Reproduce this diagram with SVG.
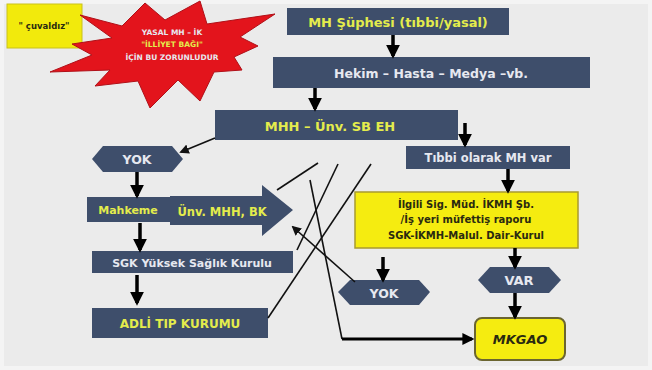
<svg xmlns="http://www.w3.org/2000/svg" width="652" height="370" viewBox="0 0 652 370">
<style>
.box{fill:#3e4e6b;}
.ty{fill:#e4ec4c;font-family:"DejaVu Sans",sans-serif;font-weight:bold;text-anchor:middle;}
.tw{fill:#e6e8f0;font-family:"DejaVu Sans",sans-serif;font-weight:bold;text-anchor:middle;}
.td{fill:#2a2a10;font-family:"DejaVu Sans",sans-serif;font-weight:bold;text-anchor:middle;}
.thick{stroke:#000;stroke-width:3.5;fill:none;}
.thin{stroke:#111;stroke-width:1.6;fill:none;}
</style>
<defs>
<marker id="ah" viewBox="0 0 10 10" refX="8" refY="5" markerWidth="4" markerHeight="4" orient="auto" markerUnits="strokeWidth">
<path d="M0,0 L10,5 L0,10 z" fill="#000"/>
</marker>
<marker id="ah2" viewBox="0 0 10 10" refX="8" refY="5" markerWidth="6" markerHeight="6" orient="auto" markerUnits="strokeWidth">
<path d="M0,0 L10,5 L0,10 z" fill="#111"/>
</marker>
</defs>
<rect x="0" y="0" width="652" height="370" fill="#f4f4f4"/>
<rect x="4" y="4" width="644" height="362" fill="#ebebeb"/>

<g id="cuvaldiz">
<rect x="7" y="4" width="75" height="44" fill="#f2ea0c" stroke="#c9c21a" stroke-width="1"/>
<text class="td" x="44" y="29" font-size="8.5">" çuvaldız"</text>
</g>

<g id="star">
<polygon points="80,15 122,26 145,3 165,20 200,1 207,24 275,14 240,37 258,46 234,57 242,70 214,72 200,101 178,80 150,108 138,81 95,86 110,70 50,72 92,55 72,44 112,38" fill="#e3141c" stroke="#b01018" stroke-width="1"/>
<text class="tw" x="172" y="35" font-size="7.5">YASAL MH – İK</text>
<text class="ty" x="172" y="47" font-size="7.5">"İLLİYET BAĞI"</text>
<text class="tw" x="172" y="60" font-size="7.5">İÇİN BU ZORUNLUDUR</text>
</g>

<g id="mh">
<rect class="box" x="287" y="8" width="222" height="27"/>
<text class="ty" x="398" y="27" font-size="13">MH Şüphesi (tıbbi/yasal)</text>
</g>

<g id="hekim">
<rect class="box" x="273" y="57" width="317" height="31"/>
<text class="tw" x="431" y="78" font-size="12.5">Hekim – Hasta – Medya –vb.</text>
</g>

<g id="mhh">
<rect class="box" x="215" y="110" width="243" height="30"/>
<text class="ty" x="330" y="131" font-size="13">MHH – Ünv. SB EH</text>
</g>

<g id="tibbi">
<rect class="box" x="406" y="146" width="164" height="23"/>
<text class="tw" x="488" y="162" font-size="11.5">Tıbbi olarak MH var</text>
</g>

<g id="ilgili">
<rect x="355" y="192" width="223" height="56" fill="#f5ec10" stroke="#a89a30" stroke-width="1.5"/>
<text class="td" x="466" y="208" font-size="10">İlgili Sig. Müd. İKMH Şb.</text>
<text class="td" x="466" y="223" font-size="10">/İş yeri müfettiş  raporu</text>
<text class="td" x="466" y="239" font-size="10">SGK-İKMH-Malul. Dair-Kurul</text>
</g>

<g id="var">
<polygon class="box" points="478,280 490,267 549,267 561,280 549,293 490,293"/>
<text class="tw" x="519" y="285" font-size="13">VAR</text>
</g>

<g id="mkgao">
<rect x="475" y="318" width="90" height="42" rx="7" fill="#f5ec10" stroke="#6b6530" stroke-width="2"/>
<text class="td" x="520" y="344" font-size="13" font-style="italic">MKGAO</text>
</g>

<g id="yok1">
<polygon class="box" points="92,159 103,146 172,146 183,159 172,172 103,172"/>
<text class="tw" x="137" y="164" font-size="12.5">YOK</text>
</g>

<g id="mahkeme">
<rect class="box" x="87" y="197" width="86" height="25"/>
<text class="ty" x="128" y="214" font-size="11">Mahkeme</text>
</g>

<g id="unv">
<polygon class="box" points="170,196 262,196 262,185 293,210 262,236 262,225 170,225"/>
<text class="ty" x="222" y="216" font-size="11.5">Ünv. MHH, BK</text>
</g>

<g id="sgk">
<rect class="box" x="92" y="251" width="201" height="22"/>
<text class="tw" x="192" y="267" font-size="11">SGK Yüksek Sağlık Kurulu</text>
</g>

<g id="adli">
<rect class="box" x="92" y="308" width="176" height="30"/>
<text class="ty" x="180" y="328" font-size="12">ADLİ TIP KURUMU</text>
</g>

<g id="yok2">
<polygon class="box" points="338,292 350,280 419,280 430,292 419,305 350,305"/>
<text class="tw" x="384" y="298" font-size="12.5">YOK</text>
</g>

<g id="connectors">
<line class="thick" x1="393" y1="35" x2="393" y2="56" marker-end="url(#ah)"/>
<line class="thick" x1="315" y1="88" x2="315" y2="109" marker-end="url(#ah)"/>
<line class="thick" x1="465" y1="123" x2="465" y2="145" marker-end="url(#ah)"/>
<line class="thick" x1="508" y1="169" x2="508" y2="191" marker-end="url(#ah)"/>
<line class="thick" x1="515" y1="248" x2="515" y2="267" marker-end="url(#ah)"/>
<line class="thick" x1="515" y1="293" x2="515" y2="317" marker-end="url(#ah)"/>
<line class="thick" x1="383" y1="257" x2="383" y2="280" marker-end="url(#ah)"/>
<line class="thick" x1="137" y1="172" x2="137" y2="196" marker-end="url(#ah)"/>
<line class="thick" x1="140" y1="223" x2="140" y2="250" marker-end="url(#ah)"/>
<line class="thick" x1="137" y1="275" x2="137" y2="303" marker-end="url(#ah)"/>
<line class="thin" x1="215" y1="138" x2="181" y2="152" marker-end="url(#ah2)"/>
<line class="thin" x1="277" y1="190" x2="318" y2="163"/>
<line class="thin" x1="297" y1="250" x2="338" y2="164"/>
<line class="thin" x1="268" y1="318" x2="371" y2="164"/>
<line class="thin" x1="355" y1="282" x2="293" y2="227" marker-end="url(#ah2)"/>
<polyline class="thin" points="310,180 342,339" />
<polyline points="342,339 472,339" stroke="#000" stroke-width="3" fill="none" marker-end="url(#ah)"/>
</g>
</svg>
